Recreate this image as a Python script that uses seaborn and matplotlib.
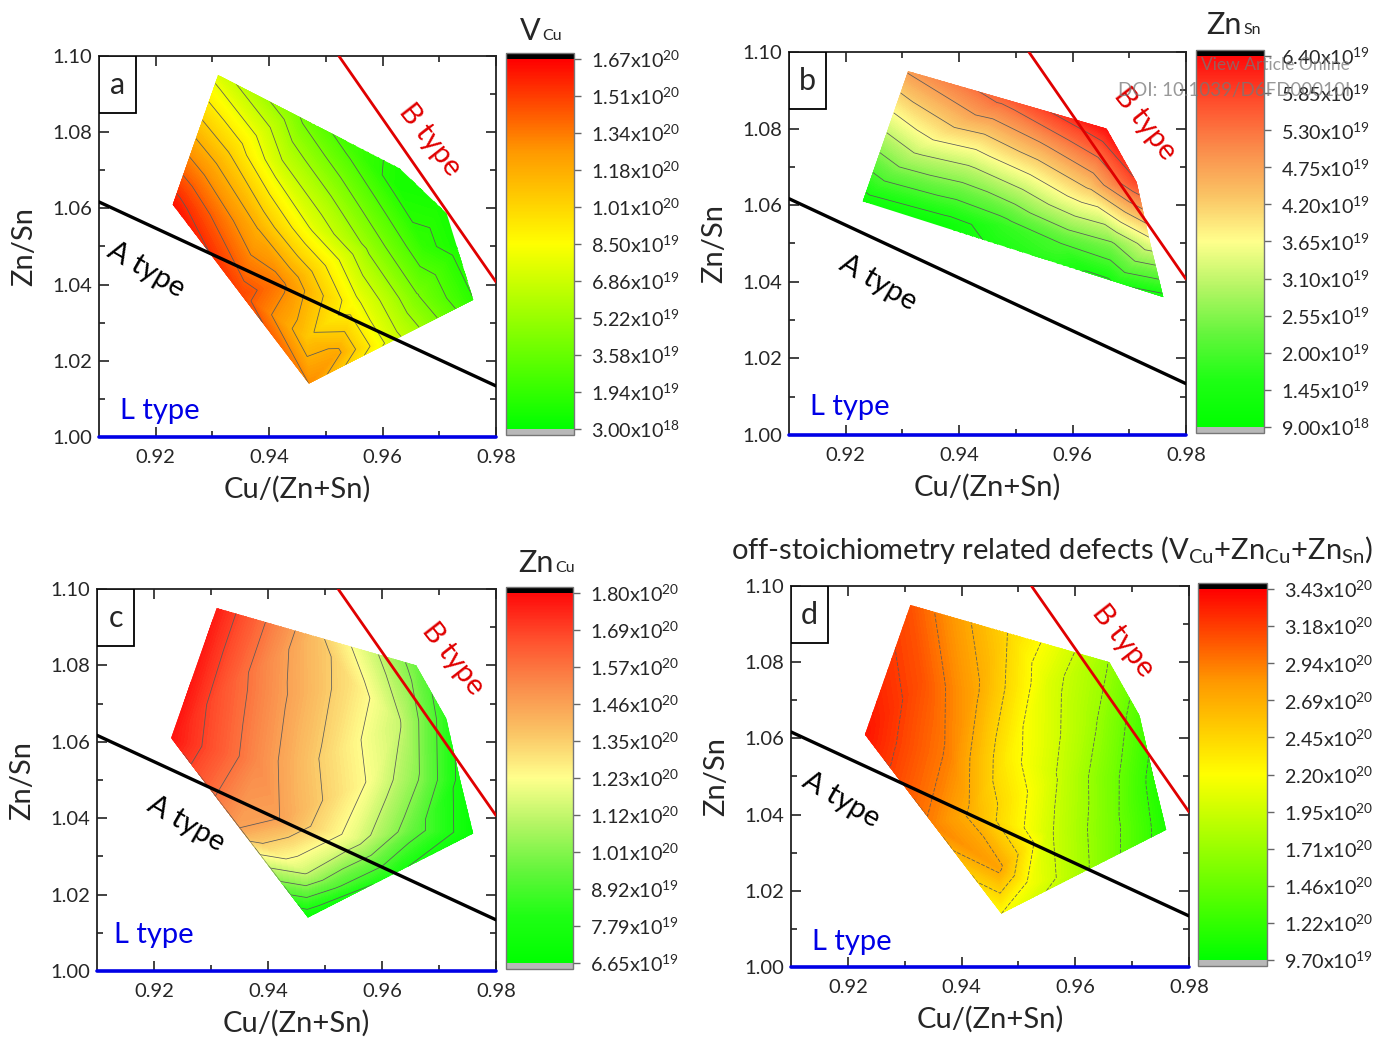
import numpy as np
import matplotlib
matplotlib.use("Agg")
import matplotlib.pyplot as plt
import matplotlib.tri as mtri
import matplotlib.cm as cm
from matplotlib.patches import Polygon, Rectangle
from matplotlib.colors import Normalize
import seaborn as sns

# ---------------- data ----------------
# composition points (Cu/(Zn+Sn), Zn/Sn)
comp_x = [0.923, 0.931, 0.948, 0.966, 0.9713, 0.9737, 0.976, 0.9615, 0.947, 0.935,
          0.933, 0.942, 0.955, 0.963, 0.967, 0.958, 0.948, 0.938, 0.942, 0.9465,
          0.955, 0.966, 0.952]
comp_y = [1.061, 1.095, 1.088, 1.080, 1.066, 1.050, 1.036, 1.025, 1.014, 1.0375,
          1.075, 1.072, 1.075, 1.065, 1.050, 1.050, 1.055, 1.055, 1.040, 1.026,
          1.035, 1.037, 1.022]

# defect densities in units of 1e19 cm^-3
v_cu = [16.2, 7.3, 2.6, 0.8, 0.8, 1.0, 1.6, 7.3, 12.9, 14.8,
        10.3, 6.8, 2.3, 1.1, 1.9, 4.9, 7.5, 11.6, 13.3, 10.8,
        8.3, 4.2, 12.0]
zn_sn = [1.2, 4.8, 5.5, 6.3, 5.8, 3.4, 1.3, 0.95, 0.95, 0.95,
         3.3, 3.3, 4.65, 4.3, 2.5, 2.0, 1.8, 1.2, 1.0, 0.95,
         1.0, 1.0, 0.95]
zn_cu = [17.8, 17.6, 13.9, 9.6, 8.3, 7.5, 7.0, 8.0, 7.0, 14.6,
         16.3, 14.8, 12.9, 11.3, 9.9, 12.2, 13.6, 15.2, 14.6, 11.4,
         11.9, 9.3, 9.0]
total = [33.5, 31.0, 24.5, 17.0, 13.5, 11.5, 11.0, 17.5, 22.0, 29.0,
         31.0, 27.5, 20.5, 17.5, 15.0, 19.0, 23.0, 29.0, 26.5, 27.5,
         20.0, 15.5, 21.5]

# region outlines
full_x = [0.923, 0.931, 0.966, 0.9713, 0.9737, 0.976, 0.947]
full_y = [1.061, 1.095, 1.080, 1.066, 1.050, 1.036, 1.014]
a_x = [0.923, 0.931, 0.963, 0.9713, 0.976, 0.947]
a_y = [1.061, 1.095, 1.0705, 1.0587, 1.036, 1.014]
b_x = [0.923, 0.931, 0.966, 0.9713, 0.9737, 0.976]
b_y = [1.061, 1.095, 1.080, 1.066, 1.050, 1.036]

# colour-bar ranges (1e19) and labels
a_range = (0.30, 16.7)
b_range = (0.90, 6.40)
c_range = (6.65, 18.0)
d_range = (9.70, 34.3)
a_labels = ["3.00x10$^{18}$", "1.94x10$^{19}$", "3.58x10$^{19}$", "5.22x10$^{19}$",
            "6.86x10$^{19}$", "8.50x10$^{19}$", "1.01x10$^{20}$", "1.18x10$^{20}$",
            "1.34x10$^{20}$", "1.51x10$^{20}$", "1.67x10$^{20}$"]
b_labels = ["9.00x10$^{18}$", "1.45x10$^{19}$", "2.00x10$^{19}$", "2.55x10$^{19}$",
            "3.10x10$^{19}$", "3.65x10$^{19}$", "4.20x10$^{19}$", "4.75x10$^{19}$",
            "5.30x10$^{19}$", "5.85x10$^{19}$", "6.40x10$^{19}$"]
c_labels = ["6.65x10$^{19}$", "7.79x10$^{19}$", "8.92x10$^{19}$", "1.01x10$^{20}$",
            "1.12x10$^{20}$", "1.23x10$^{20}$", "1.35x10$^{20}$", "1.46x10$^{20}$",
            "1.57x10$^{20}$", "1.69x10$^{20}$", "1.80x10$^{20}$"]
d_labels = ["9.70x10$^{19}$", "1.22x10$^{20}$", "1.46x10$^{20}$", "1.71x10$^{20}$",
            "1.95x10$^{20}$", "2.20x10$^{20}$", "2.45x10$^{20}$", "2.69x10$^{20}$",
            "2.94x10$^{20}$", "3.18x10$^{20}$", "3.43x10$^{20}$"]

# boundary lines
a_line_x = [0.91, 0.98]
a_line_y = [1.0617, 1.0134]
b_line_x = [0.9523, 0.98]
b_line_y = [1.10, 1.0407]
l_line_x = [0.91, 0.98]
l_line_y = [1.00, 1.00]

x_ticks = [0.92, 0.94, 0.96, 0.98]
x_ticklabels = ["0.92", "0.94", "0.96", "0.98"]
y_ticks = [1.00, 1.02, 1.04, 1.06, 1.08, 1.10]
y_ticklabels = ["1.00", "1.02", "1.04", "1.06", "1.08", "1.10"]

# ---------------- style ----------------
sns.set_style("ticks")
plt.rcParams['font.family'] = ['Lato', 'DejaVu Sans']
plt.rcParams['mathtext.fontset'] = 'custom'
plt.rcParams['mathtext.rm'] = 'Lato'
plt.rcParams['mathtext.it'] = 'Lato:italic'
plt.rcParams['mathtext.bf'] = 'Lato:bold'
plt.rcParams['axes.linewidth'] = 1.3

W, H = 1379, 1039
fig = plt.figure(figsize=(W / 100, H / 100), dpi=100)


def rect(l, t, r, b):
    return [l / W, 1 - b / H, (r - l) / W, (b - t) / H]


cmap_bright = sns.blend_palette(["#00ff00", "#80ff00", "#ffff00", "#ff9900", "#ff0000"],
                                as_cmap=True).with_extremes(over="black", under="#b8b8b8")
cmap_pastel = sns.blend_palette(["#00ff00", "#1eff14", "#64f53c", "#b4f564", "#ffff8c",
                                 "#fac364", "#fa8c4b", "#ff502d", "#ff0a0a"],
                                as_cmap=True).with_extremes(over="black", under="#b8b8b8")

tri = mtri.Triangulation(comp_x, comp_y)

panels = [
    dict(ax=rect(99, 56, 496, 437), cax=rect(506, 53, 574, 435), vals=v_cu, rng=a_range,
         cmap=cmap_bright, px=a_x, py=a_y, labels=a_labels, letter="a", nlines=13, ls="-",
         A=(0.9183, 1.0438), B=(0.9684, 1.078), L=(0.9207, 1.0069)),
    dict(ax=rect(789, 52, 1186, 435), cax=rect(1196, 50, 1264, 433), vals=zn_sn, rng=b_range,
         cmap=cmap_pastel, px=b_x, py=b_y, labels=b_labels, letter="b", nlines=10, ls="-",
         A=(0.9257, 1.0397), B=(0.9728, 1.0811), L=(0.9208, 1.0073)),
    dict(ax=rect(97, 589, 496, 971), cax=rect(506, 587, 573, 969), vals=zn_cu, rng=c_range,
         cmap=cmap_pastel, px=full_x, py=full_y, labels=c_labels, letter="c", nlines=10, ls="-",
         A=(0.9257, 1.0385), B=(0.9725, 1.0817), L=(0.9199, 1.0093)),
    dict(ax=rect(791, 586, 1189, 967), cax=rect(1198, 583, 1267, 966), vals=total, rng=d_range,
         cmap=cmap_bright, px=full_x, py=full_y, labels=d_labels, letter="d", nlines=10,
         ls=(0, (5, 2)),
         A=(0.9188, 1.0438), B=(0.9684, 1.0855), L=(0.9207, 1.0066)),
]

for p in panels:
    ax = fig.add_axes(p["ax"])
    cax = fig.add_axes(p["cax"])
    vmin, vmax = p["rng"]
    norm = Normalize(vmin, vmax)

    clip = Polygon(np.column_stack([p["px"], p["py"]]), closed=True,
                   facecolor="none", edgecolor="none", transform=ax.transData)
    ax.add_patch(clip)

    cf = ax.tricontourf(tri, p["vals"], levels=np.linspace(vmin, vmax, 120),
                        cmap=p["cmap"], norm=norm, extend="both", zorder=1)
    cf.set_edgecolor("face")
    cf.set_linewidth(0.4)
    cf.set_clip_path(clip)
    cl = ax.tricontour(tri, p["vals"], levels=np.linspace(vmin, vmax, p["nlines"] + 1)[1:-1],
                       colors="#5a5a5a", linewidths=0.55, linestyles=[p["ls"]], zorder=2)
    cl.set_clip_path(clip)

    sns.lineplot(x=a_line_x, y=a_line_y, ax=ax, color="black", lw=2.4, sort=False, zorder=4)
    sns.lineplot(x=b_line_x, y=b_line_y, ax=ax, color="#e00000", lw=2.0, sort=False, zorder=4)
    sns.lineplot(x=l_line_x, y=l_line_y, ax=ax, color="#0000e6", lw=2.6, sort=False,
                 zorder=5, clip_on=False)

    ax.set_xlim(0.91, 0.98)
    ax.set_ylim(1.00, 1.10)
    ax.set_xticks(x_ticks)
    ax.set_xticklabels(x_ticklabels)
    ax.set_xticks([0.93, 0.95, 0.97], minor=True)
    ax.set_yticks(y_ticks)
    ax.set_yticklabels(y_ticklabels)
    ax.set_yticks([1.01, 1.03, 1.05, 1.07, 1.09], minor=True)
    ax.tick_params(which="both", direction="in", top=True, right=True, width=1.2,
                   labelsize=14.5, color="#222222")
    ax.tick_params(axis="x", which="both", pad=8.5)
    ax.tick_params(axis="y", which="both", pad=5)
    ax.tick_params(which="major", length=7)
    ax.tick_params(which="minor", length=4)
    ax.set_xlabel("Cu/(Zn+Sn)", fontsize=21, labelpad=7)
    ax.set_ylabel("Zn/Sn", fontsize=21, labelpad=11)
    for s in ax.spines.values():
        s.set_color("#222222")
        s.set_linewidth(1.3)

    ax.text(*p["A"], "A type", fontsize=21, rotation=-30, ha="center", va="center",
            color="black", zorder=6, rotation_mode="anchor")
    ax.text(*p["B"], "B type", fontsize=21, rotation=-52, ha="center", va="center",
            color="#e00000", zorder=6, rotation_mode="anchor")
    ax.text(*p["L"], "L type", fontsize=21, ha="center", va="center",
            color="#0000e6", zorder=6)

    ax.add_patch(Rectangle((0, 1 - 57 / 381), 37 / 397, 57 / 381, transform=ax.transAxes,
                           facecolor="white", edgecolor="black", lw=1.3, zorder=7))
    ax.text(18.5 / 397, 1 - 29 / 381, p["letter"], transform=ax.transAxes, fontsize=22,
            ha="center", va="center", zorder=8)

    sm = cm.ScalarMappable(norm=norm, cmap=p["cmap"])
    cb = fig.colorbar(sm, cax=cax, extend="both", extendrect=True, extendfrac=0.0162,
                      ticks=np.linspace(vmin, vmax, 11))
    cb.set_ticklabels(p["labels"])
    cb.outline.set_edgecolor("#777777")
    cb.outline.set_linewidth(1.0)
    cax.tick_params(length=5, width=1.0, color="#666666", labelsize=14.2, pad=7)

# colour-bar titles
fig.text(541 / W, 1 - 40 / H, "V", fontsize=22, ha="right", va="baseline")
fig.text(542 / W, 1 - 40 / H, "Cu", fontsize=11.5, ha="left", va="baseline")
fig.text(1242 / W, 1 - 34 / H, "Zn", fontsize=22, ha="right", va="baseline")
fig.text(1243 / W, 1 - 34 / H, "Sn", fontsize=11.5, ha="left", va="baseline")
fig.text(554 / W, 1 - 572 / H, "Zn", fontsize=22, ha="right", va="baseline")
fig.text(555 / W, 1 - 572 / H, "Cu", fontsize=11.5, ha="left", va="baseline")
fig.text(1052 / W, 1 - 559 / H,
         r"off-stoichiometry related defects (V$_{\mathrm{Cu}}$+Zn$_{\mathrm{Cu}}$+Zn$_{\mathrm{Sn}}$)",
         fontsize=21, ha="center", va="baseline")

# watermark of the source page
fig.text(1350 / W, 1 - 70 / H, "View Article Online", fontsize=12.5, color="#777777",
         alpha=0.75, ha="right", va="baseline")
fig.text(1350 / W, 1 - 96 / H, "DOI: 10.1039/D6FD00010I", fontsize=13.5, color="#777777",
         alpha=0.75, ha="right", va="baseline")

fig.savefig("out.png", dpi=100)
